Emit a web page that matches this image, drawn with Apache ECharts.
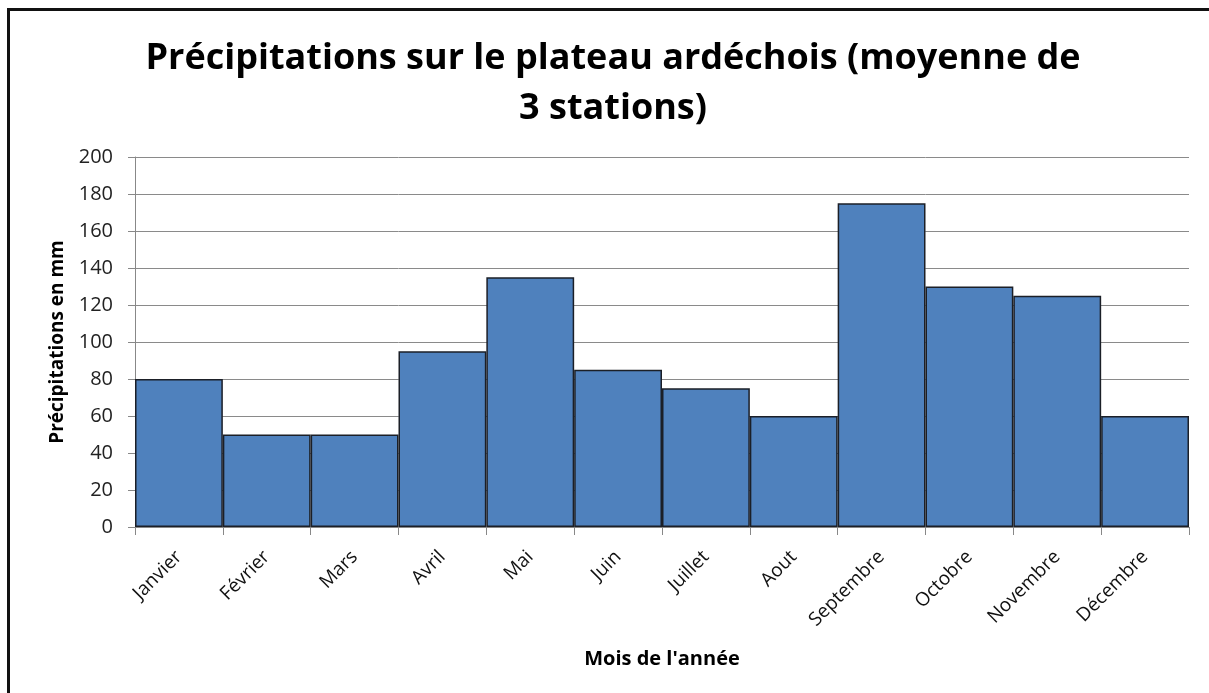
<!DOCTYPE html>
<html>
<head>
    <meta charset="UTF-8">
    <script src="https://cdn.jsdelivr.net/npm/echarts@6/dist/echarts.min.js"></script>
    <style>
    html, body {
        margin: 0;
        padding: 0;
        background: #fff;
        overflow: hidden;
    }
    .frame {
        position: absolute;
        left: 7px;
        top: 8px;
        width: 1260px;
        height: 760px;
        border-left: 3px solid #111;
        border-top: 3px solid #111;
    }
    #chart {
        position: absolute;
        left: 0;
        top: 0;
        width: 1209px;
        height: 693px;
    }
    </style>
</head>
<body>
    <div class="frame"></div>
    <div id="chart"></div>
    <script>
    // mois et précipitations moyennes (mm)
    var mois = ['Janvier', 'Février', 'Mars', 'Avril', 'Mai', 'Juin', 'Juillet', 'Aout', 'Septembre', 'Octobre', 'Novembre', 'Décembre'];
    var precipitations = [80, 50, 50, 95, 135, 85, 75, 60, 175, 130, 125, 60];
    var yTicks = [0, 20, 40, 60, 80, 100, 120, 140, 160, 180, 200];

    var font = '"Open Sans", "DejaVu Sans", sans-serif';

    var option = {
        animation: false,
        title: {
            text: 'Précipitations sur le plateau ardéchois (moyenne de\n3 stations)',
            // centré un peu à droite comme sur l'original
            left: 608,
            textAlign: 'center',
            top: 29,
            textStyle: {
                fontFamily: font,
                fontWeight: 'bold',
                fontSize: 36,
                lineHeight: 50,
                color: '#000'
            }
        },
        grid: {
            left: 135,
            right: 20,
            top: 157,
            bottom: 166
        },
        xAxis: {
            type: 'category',
            data: mois,
            name: "Mois de l'année",
            nameLocation: 'middle',
            nameGap: 122,
            nameTextStyle: {
                fontFamily: font,
                fontWeight: 'bold',
                fontSize: 20,
                color: '#000'
            },
            axisLine: { lineStyle: { color: '#888', width: 1 } },
            axisTick: { show: true, length: 8, lineStyle: { color: '#888' } },
            axisLabel: {
                rotate: 45,
                margin: 27,
                fontFamily: font,
                fontSize: 19,
                color: '#111',
                interval: 0
            }
        },
        yAxis: {
            type: 'value',
            min: yTicks[0],
            max: yTicks[yTicks.length - 1],
            interval: yTicks[1] - yTicks[0],
            name: 'Précipitations en mm',
            nameLocation: 'middle',
            nameGap: 68,
            nameTextStyle: {
                fontFamily: font,
                fontWeight: 'bold',
                fontSize: 19,
                color: '#000'
            },
            axisLine: { show: true, lineStyle: { color: '#888', width: 1 } },
            axisTick: { show: true, length: 7, lineStyle: { color: '#888' } },
            axisLabel: {
                margin: 22,
                fontFamily: font,
                fontSize: 20,
                color: '#222'
            },
            splitLine: { lineStyle: { color: '#8a8a8a', width: 1 } }
        },
        series: [{
            type: 'bar',
            data: precipitations,
            barCategoryGap: '0%',
            itemStyle: {
                color: '#4F81BD',
                borderColor: '#1b1f27',
                borderWidth: 1.5
            }
        }]
    };

    var myChart = echarts.init(document.getElementById('chart'));
    myChart.setOption(option);
    </script>
</body>
</html>
